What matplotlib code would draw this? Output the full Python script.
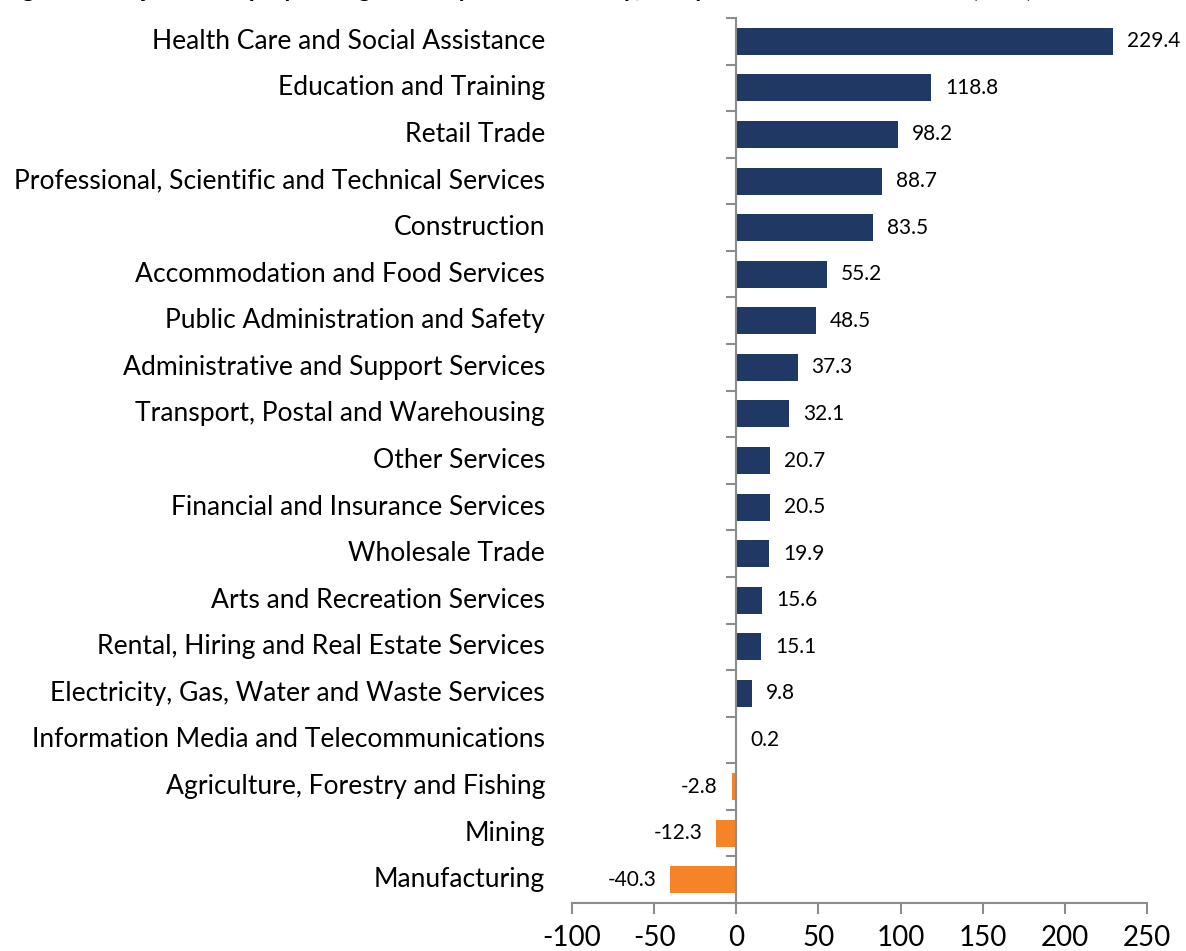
import matplotlib
matplotlib.use("Agg")
import matplotlib.pyplot as plt
from matplotlib.transforms import blended_transform_factory

plt.rcParams['font.family'] = ['Lato', 'DejaVu Sans']

title = "Figure 1: Projected employment growth by broad industry, five years to November 2019 ('000)"

industries = [
    "Health Care and Social Assistance",
    "Education and Training",
    "Retail Trade",
    "Professional, Scientific and Technical Services",
    "Construction",
    "Accommodation and Food Services",
    "Public Administration and Safety",
    "Administrative and Support Services",
    "Transport, Postal and Warehousing",
    "Other Services",
    "Financial and Insurance Services",
    "Wholesale Trade",
    "Arts and Recreation Services",
    "Rental, Hiring and Real Estate Services",
    "Electricity, Gas, Water and Waste Services",
    "Information Media and Telecommunications",
    "Agriculture, Forestry and Fishing",
    "Mining",
    "Manufacturing",
]
growth = [229.4, 118.8, 98.2, 88.7, 83.5, 55.2, 48.5, 37.3, 32.1, 20.7,
          20.5, 19.9, 15.6, 15.1, 9.8, 0.2, -2.8, -12.3, -40.3]
xticks = [-100, -50, 0, 50, 100, 150, 200, 250]

NAVY = "#203864"
ORANGE = "#F58426"
GRAY = "#8C8C8C"

W, H = 1186, 951
fig = plt.figure(figsize=(W / 100, H / 100), dpi=100)
ax = fig.add_axes([572 / W, 1 - 903 / H, (1147 - 572) / W, (903 - 18) / H])

n = len(industries)
ypos = list(range(n))
colors = [NAVY if v >= 0 else ORANGE for v in growth]
ax.barh(ypos, growth, height=0.58, color=colors, zorder=2)

ax.set_xlim(-100, 250)
ax.set_ylim(n - 0.5, -0.5)

for s in ['top', 'right']:
    ax.spines[s].set_visible(False)
ax.spines['left'].set_position(('data', 0))
ax.spines['left'].set_color(GRAY)
ax.spines['left'].set_linewidth(1.5)
ax.spines['bottom'].set_color(GRAY)
ax.spines['bottom'].set_linewidth(1.5)
ax.spines['left'].set_zorder(3)

ax.set_yticks([i - 0.5 for i in range(n)] + [n - 0.5])
ax.set_yticklabels([])
ax.tick_params(axis='y', direction='out', length=7, width=1.5, color=GRAY)

ax.set_xticks(xticks)
ax.set_xticklabels([str(t) for t in xticks])
ax.tick_params(axis='x', direction='out', length=8, width=1.5, color=GRAY,
               labelsize=20, pad=8)

# category labels, right-aligned left of the plot area
trans = blended_transform_factory(fig.transFigure, ax.transData)
cat_texts = []
for i, name in enumerate(industries):
    t = ax.text(545 / W, i, name, transform=trans, ha='right', va='center',
                fontsize=15, color='black')
    cat_texts.append(t)

# value labels
for i, v in enumerate(growth):
    if v >= 0:
        ax.annotate(f"{v:.1f}", (v, i), xytext=(10, 0), textcoords='offset points',
                    ha='left', va='center', fontsize=15, color='black')
    else:
        ax.annotate(f"{v:.1f}", (v, i), xytext=(-10, 0), textcoords='offset points',
                    ha='right', va='center', fontsize=15, color='black')

ttl = fig.text(2 / W, 1 + 3 / H, title, ha='left', va='baseline',
               fontsize=16, fontweight='bold', color='black')

# fit text sizes to the reference widths
fig.canvas.draw()
r = fig.canvas.get_renderer()
longest = cat_texts[3]
w = longest.get_window_extent(r).width
scale = 532 / w
for t in cat_texts:
    t.set_fontsize(15 * scale)
wt = ttl.get_window_extent(r).width
ttl.set_fontsize(16 * 1033 / wt)

fig.savefig("out.png", dpi=100)
